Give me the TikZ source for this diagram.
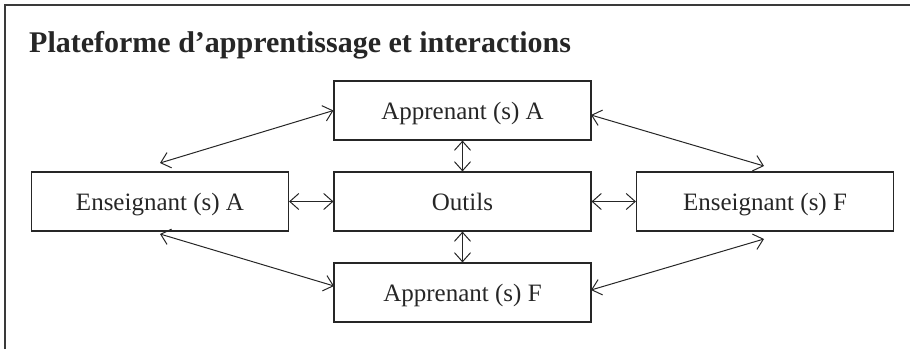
\documentclass[tikz,border=0pt]{standalone}
\usepackage{fontspec}
\setmainfont{Liberation Serif}
\usetikzlibrary{arrows.meta}
\definecolor{ink}{HTML}{262626}
\definecolor{framec}{HTML}{3A3A3A}
\tikzset{
  boxnode/.style={draw=ink, line width=1.1pt, minimum width=257pt, minimum height=59pt,
    inner sep=0pt, text=ink, font=\fontsize{25}{30}\selectfont, text height=18pt, text depth=0pt},
  link/.style={draw=ink, line width=1pt,
    {Straight Barb[length=9pt,width=16pt,line width=1pt]}-{Straight Barb[length=9pt,width=16pt,line width=1pt]}}
}
\begin{document}
\begin{tikzpicture}[x=1pt,y=-1pt]
\useasboundingbox (0,0) rectangle (910,349);
% frame
\draw[framec, line width=1.6pt] (5,349) -- (5,5) -- (910,5);
% title
\node[anchor=base west, inner sep=0pt, text=ink, font=\fontsize{30}{36}\selectfont\bfseries] (title) at (29,52) {Plateforme d’apprentissage et interactions};
% boxes
\node[boxnode] (apA) at (462.5,110.5) {Apprenant (s) A};
\node[boxnode] (out) at (462.5,201.5) {Outils};
\node[boxnode] (apF) at (462.5,292.5) {Apprenant (s) F};
\node[boxnode] (enA) at (160,201.5) {Enseignant (s) A};
\node[boxnode] (enF) at (765,201.5) {Enseignant (s) F};
% free ends of diagonal connectors
\coordinate (ulEnd) at (160,163);
\coordinate (urEnd) at (764,166);
\coordinate (llEnd) at (160,234);
\coordinate (lrEnd) at (764,239);
\coordinate (apAr) at (591,115);
\coordinate (apFr) at (591,290);
\coordinate (apFl) at (334,286);
% connectors
\draw[link] (enA.east) -- (out.west);
\draw[link] (out.east) -- (enF.west);
\draw[link] (apA.south) -- (out.north);
\draw[link] (out.south) -- (apF.north);
\draw[link] (ulEnd) -- (apA.west);
\draw[link] (apAr) -- (urEnd);
\draw[link] (llEnd) -- (apFl);
\draw[link] (lrEnd) -- (apFr);
\end{tikzpicture}
\end{document}
